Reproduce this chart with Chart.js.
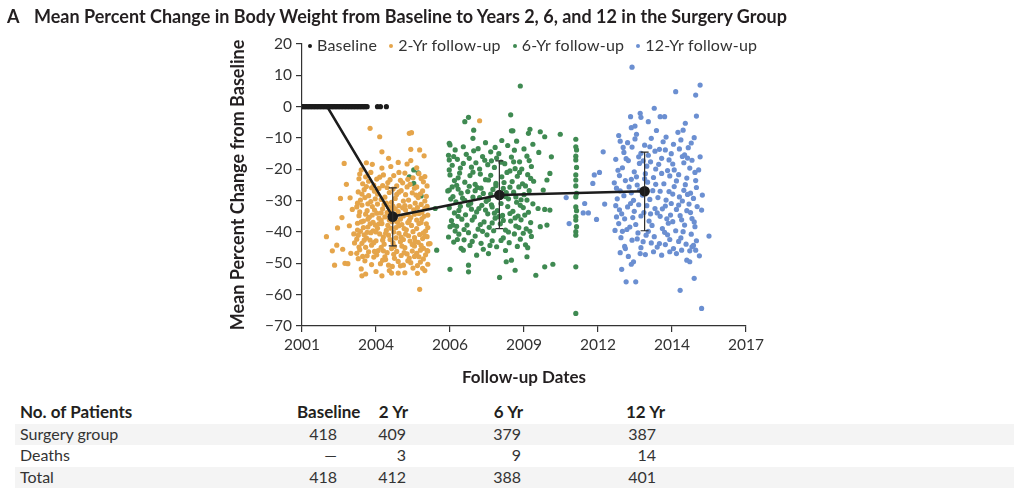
<!DOCTYPE html>
<html>
<head>
<meta charset="utf-8">
<script src="https://cdn.jsdelivr.net/npm/chart.js@4.4.1/dist/chart.umd.min.js"></script>
<style>
  body { margin: 0; background: #fff; font-family: Lato, "Open Sans", sans-serif; color: #231f20; }
  #page { position: relative; width: 1024px; height: 491px; overflow: hidden; }
  #title { position: absolute; left: 7px; top: 5px; font-size: 18px; font-weight: 700; line-height: 22px; white-space: nowrap; }
  #title .letter { display: inline-block; width: 27px; }
  #chart-box { position: absolute; left: 0; top: 0; width: 1024px; height: 400px; }
  #legend { position: absolute; left: 308px; top: 35px; font-size: 16px; letter-spacing: 0.2px; line-height: 20px; color: #333; white-space: nowrap; }
  #legend .item { display: inline-block; margin-right: 12px; }
  #legend .dot { display: inline-block; width: 4px; height: 4px; border-radius: 50%; margin-right: 5px; vertical-align: middle; position: relative; top: -1px; }
  .band { position: absolute; left: 15px; width: 999px; height: 21px; background: #f4f4f4; }
  .cell { position: absolute; font-size: 16px; line-height: 22px; white-space: nowrap; color: #333; }
  .head { font-weight: 700; color: #231f20; font-size: 17px; }
  .num { text-align: right; width: 60px; }
</style>
</head>
<body>
<div id="page">
  <div id="chart-box"><canvas id="weight-chart"></canvas></div>
  <div id="title"><span class="letter">A</span>Mean Percent Change in Body Weight from Baseline to Years 2, 6, and 12 in the Surgery Group</div>
  <div id="legend"></div>
  <div id="table"></div>
</div>
<script>
// x axis positions are evenly spaced slots, labelled with these dates
const xTickLabels = ['2001', '2004', '2006', '2009', '2012', '2014', '2017'];

// mean change line with SD bars (x in slot units)
const meanX = [0.34, 1.226, 2.667, 4.63];
const meanY = [0, -35.1, -28.2, -27.0];
const errLow = [null, -44.4, -38.9, -39.6];
const errHigh = [null, -25.9, -17.3, -14.5];

// individual patients: [x, y]
const baselineX = [0, 0.02, 0.04, 0.06, 0.08, 0.10, 0.12, 0.14, 0.16, 0.18, 0.20, 0.22, 0.24, 0.26, 0.28,
  0.30, 0.32, 0.34, 0.36, 0.38, 0.40, 0.42, 0.44, 0.46, 0.48, 0.50, 0.52, 0.54, 0.56, 0.58, 0.60, 0.62,
  0.64, 0.66, 0.68, 0.70, 0.72, 0.74, 0.76, 0.78, 0.80, 0.82, 0.84, 0.86, 0.88, 1.02, 1.06, 1.14];

const year2Points = [
  [0.92,-6.9],[1.05,-9.6],[1.45,-8.5],[1.48,-8.3],[0.57,-18.1],
  [1.08,-14.4],[1.47,-13.6],[1.59,-13.8],[1.65,-15.7],[1.17,-16.5],[0.87,-17.9],[0.95,-18.4],[1.08,-19.6],
  [1.20,-19.1],[1.30,-17.8],[1.42,-18.3],[1.47,-17.2],[1.55,-19.5],[0.80,-20.2],
  [0.78,-21.5],[0.86,-22.4],[0.93,-21.0],[1.01,-23.1],[1.10,-21.8],[1.16,-24.2],[1.24,-22.0],[1.33,-23.5],
  [1.39,-21.2],[1.50,-22.7],[1.58,-21.4],[1.64,-24.0],[0.82,-24.6],[0.97,-25.0],[1.28,-25.3],[1.46,-24.8],[1.55,-25.6],
  [0.76,-27.2],[0.84,-26.5],[0.90,-28.4],[0.98,-27.0],[1.04,-26.1],[1.12,-28.9],[1.18,-27.4],[1.26,-29.3],
  [1.34,-26.8],[1.40,-28.1],[1.49,-27.5],[1.57,-29.0],[1.63,-26.9],[1.68,-28.6],[0.79,-29.8],[0.93,-30.3],
  [1.07,-29.6],[1.21,-30.5],[1.37,-30.1],[1.53,-30.8],[1.61,-31.2],
  [0.74,-32.0],[0.81,-31.4],[0.88,-33.2],[0.95,-31.9],[1.01,-34.0],[1.09,-32.6],[1.15,-33.8],[1.23,-31.7],
  [1.30,-33.5],[1.36,-32.3],[1.43,-34.4],[1.51,-32.9],[1.58,-34.1],[1.66,-32.5],[0.77,-34.8],[0.91,-35.3],
  [1.04,-35.6],[1.19,-35.0],[1.33,-35.9],[1.47,-35.4],[1.62,-35.8],[1.70,-34.6],
  [0.52,-29.3],[0.65,-29.1],[0.54,-35.4],[0.33,-41.5],[0.48,-38.7],[0.47,-44.2],[0.55,-45.5],[0.58,-50.0],
  [0.62,-50.1],[0.68,-32.8],[0.70,-40.6],[0.64,-38.0],[0.66,-46.8],[0.71,-43.5],[0.60,-24.8],
  [0.75,-37.2],[0.83,-36.5],[0.89,-38.4],[0.96,-36.9],[1.02,-38.8],[1.08,-37.3],[1.14,-39.5],[1.22,-36.7],
  [1.27,-38.6],[1.35,-37.6],[1.41,-39.3],[1.48,-37.9],[1.55,-38.9],[1.61,-37.0],[1.67,-39.7],[0.79,-39.8],
  [0.93,-40.2],[1.05,-40.6],[1.17,-41.0],[1.31,-40.4],[1.44,-41.2],[1.59,-40.8],[1.69,-41.5],
  [0.74,-42.3],[0.81,-43.6],[0.87,-41.9],[0.94,-44.2],[1.00,-42.8],[1.11,-43.9],[1.19,-42.4],[1.25,-44.6],
  [1.33,-43.1],[1.39,-45.0],[1.46,-42.9],[1.52,-44.5],[1.57,-43.3],[1.64,-45.2],[1.71,-43.8],[0.78,-45.7],
  [0.90,-46.3],[1.03,-45.9],[1.15,-46.6],[1.28,-46.2],[1.42,-47.0],[1.55,-46.8],[1.67,-47.3],
  [0.76,-48.5],[0.85,-49.2],[0.97,-48.0],[1.06,-50.1],[1.13,-48.8],[1.22,-51.0],[1.30,-49.4],[1.37,-50.6],
  [1.45,-48.3],[1.50,-51.5],[1.60,-49.6],[1.70,-50.3],[0.80,-51.8],[1.00,-52.6],[1.18,-52.3],[1.39,-53.0],
  [0.81,-54.0],[0.86,-53.4],[1.08,-54.0],[1.21,-53.1],[1.30,-53.1],[1.59,-58.3],[1.56,-53.2],[1.63,-51.6],
  [1.73,-43.7],[0.41,-46.0],[0.44,-50.6],
  [0.85,-29.0],[0.99,-29.4],[1.14,-30.8],[1.28,-28.0],[1.44,-29.8],[1.60,-27.8],[0.78,-33.6],[0.98,-33.0],
  [1.12,-35.2],[1.26,-34.7],[1.40,-33.0],[1.55,-36.2],[1.68,-37.4],[0.84,-40.9],[0.99,-37.8],[1.10,-41.6],
  [1.24,-40.0],[1.38,-38.9],[1.52,-41.8],[1.63,-42.1],[0.77,-44.8],[0.92,-42.6],[1.07,-44.9],[1.21,-45.3],
  [1.35,-44.5],[1.49,-46.1],[1.61,-44.3],[0.88,-47.6],[1.01,-47.3],[1.12,-47.9],[1.25,-48.4],[1.34,-47.5],
  [1.47,-49.8],[1.58,-47.9],[1.69,-45.9],[0.83,-38.6],[0.96,-39.6],[1.16,-37.9],[1.29,-36.9],[1.45,-36.3],
  [1.64,-40.3],[0.75,-39.4],[0.89,-35.9],[1.07,-36.3],[1.20,-38.8],[1.34,-41.6],[1.50,-39.9],[1.66,-30.1],
  [0.81,-27.9],[1.02,-31.1],[1.17,-32.0],[1.31,-31.6],[1.46,-31.9],[1.62,-33.7],[0.94,-25.9],[1.09,-25.2],
  [1.23,-26.3],[1.36,-24.3],[1.52,-26.0],[1.66,-22.3],[2.40,-4.5],
  [0.77,-23.0],[0.90,-23.8],[1.05,-22.5],[1.19,-23.3],[1.31,-21.0],[1.43,-23.2],[1.61,-22.9],
  [0.87,-25.5],[1.02,-27.9],[1.15,-25.8],[1.31,-27.3],[1.42,-25.6],[1.54,-28.2],[1.69,-25.3],
  [0.75,-30.8],[0.89,-31.0],[1.11,-31.2],[1.26,-32.6],[1.39,-31.6],[1.56,-32.2],[1.69,-31.8],
  [0.86,-34.3],[0.95,-34.6],[1.07,-33.9],[1.21,-33.2],[1.37,-34.9],[1.52,-34.3],[1.65,-35.0],
  [0.80,-36.8],[0.92,-37.4],[1.04,-37.4],[1.18,-36.2],[1.31,-38.0],[1.43,-37.0],[1.58,-37.3],[1.70,-38.6],
  [0.76,-41.0],[0.88,-40.1],[1.00,-40.0],[1.13,-40.4],[1.27,-41.9],[1.40,-40.7],[1.53,-43.0],[1.66,-41.3],
  [0.84,-42.6],[0.97,-43.4],[1.09,-42.6],[1.23,-43.5],[1.37,-42.4],[1.49,-44.0],[1.60,-45.8],[1.70,-46.1],
  [0.74,-46.8],[0.86,-44.9],[0.98,-46.2],[1.10,-46.0],[1.24,-47.1],[1.38,-46.6],[1.52,-47.8],[1.64,-48.6],
  [0.82,-47.8],[0.94,-50.4],[1.09,-49.0],[1.17,-50.6],[1.33,-50.8],[1.43,-49.2],[1.56,-50.7],[1.66,-52.3]
];

const year6Points = [
  [2.95,6.6],[2.82,-2.6],[2.20,-4.8],[2.25,-3.4],[2.32,-7.5],[2.31,-10.1],[2.83,-7.7],[2.85,-7.7],
  [3.08,-7.2],[3.06,-8.5],[3.22,-8.0],[3.28,-9.6],[3.49,-8.8],[2.00,-12.2],[2.07,-13.8],[2.18,-12.8],
  [2.32,-14.1],[2.48,-11.5],[2.61,-13.0],[2.70,-10.8],[2.78,-12.4],[2.90,-11.0],[3.00,-13.5],[3.12,-12.0],[3.20,-14.6],
  [3.37,-16.0],[3.35,-21.3],[3.31,-23.4],[3.26,-26.6],[3.19,-32.5],[3.28,-32.8],[3.35,-33.0],[3.22,-38.3],[3.31,-37.8],
  [2.00,-38.3],[1.82,-45.8],[2.00,-51.9],[2.25,-52.7],[2.25,-50.6],[2.67,-54.5],[2.88,-52.2],[3.16,-53.8],
  [3.28,-51.1],[3.39,-50.3],[2.76,-49.5],[2.83,-49.0],[3.04,-47.9],[2.52,-46.9],[2.18,-45.8],[2.36,-47.4],
  [1.99,-11.7],[1.99,-17.0],[1.99,-20.2],[1.51,-20.2],[1.57,-21.1],[1.45,-22.4],[1.51,-24.5],[1.61,-28.5],
  [1.80,-32.5],[1.99,-26.6],
  [1.98,-15.5],[2.10,-16.8],[2.22,-15.2],[2.35,-17.9],[2.44,-15.9],[2.56,-17.3],[2.66,-15.0],[2.74,-18.2],
  [2.83,-16.1],[2.94,-17.6],[3.04,-15.8],[2.14,-19.6],[2.40,-19.9],[2.60,-19.4],[2.88,-19.8],[3.10,-19.1],
  [2.00,-21.8],[2.06,-23.6],[2.13,-21.2],[2.20,-24.1],[2.27,-22.0],[2.34,-24.8],[2.41,-21.5],[2.48,-23.3],
  [2.55,-21.9],[2.62,-24.5],[2.70,-22.4],[2.77,-21.0],[2.84,-23.9],[2.91,-22.2],[2.98,-24.6],[3.05,-21.7],[3.13,-23.8],
  [1.97,-26.9],[2.04,-28.7],[2.11,-26.3],[2.17,-29.2],[2.24,-27.1],[2.31,-28.9],[2.37,-25.8],[2.45,-27.7],
  [2.52,-29.6],[2.58,-26.4],[2.65,-28.3],[2.72,-26.1],[2.79,-29.4],[2.86,-27.3],[2.93,-25.6],[3.00,-28.1],
  [3.07,-26.8],[2.08,-30.4],[2.28,-30.8],[2.49,-30.2],[2.69,-30.9],[2.90,-30.5],
  [1.99,-32.3],[2.06,-33.9],[2.14,-31.8],[2.21,-34.5],[2.29,-32.7],[2.36,-33.6],[2.43,-31.5],[2.51,-34.2],
  [2.57,-32.0],[2.64,-33.2],[2.71,-34.7],[2.78,-31.9],[2.85,-33.4],[2.92,-34.9],[2.99,-32.2],[3.06,-33.7],[3.12,-31.0],
  [2.02,-36.4],[2.09,-38.2],[2.16,-35.9],[2.23,-37.8],[2.30,-36.2],[2.38,-39.1],[2.46,-36.8],[2.53,-38.5],
  [2.61,-35.6],[2.68,-37.4],[2.75,-39.4],[2.82,-36.5],[2.89,-38.1],[2.96,-36.1],[3.03,-39.0],[3.09,-37.0],
  [1.98,-41.6],[2.05,-43.2],[2.12,-40.7],[2.19,-42.5],[2.27,-44.3],[2.34,-41.3],[2.42,-43.6],[2.50,-40.9],
  [2.57,-42.8],[2.63,-44.7],[2.72,-41.9],[2.80,-43.4],[2.87,-40.6],[2.95,-42.3],[3.02,-44.1],[3.10,-41.4],
  [2.15,-45.2],[2.45,-45.5],[2.75,-45.9],[3.05,-45.0],
  [2.03,-18.7],[2.18,-18.1],[2.29,-19.3],[2.51,-18.5],[2.69,-17.7],[2.81,-20.5],[2.97,-19.9],
  [2.09,-25.1],[2.26,-25.4],[2.42,-26.0],[2.62,-25.2],[2.81,-25.7],[3.02,-25.3],
  [2.01,-29.5],[2.20,-29.9],[2.40,-29.0],[2.56,-31.3],[2.75,-28.7],[2.96,-29.7],
  [2.11,-35.0],[2.33,-35.2],[2.48,-33.0],[2.66,-35.1],[2.88,-35.5],[3.01,-34.6],
  [2.07,-39.7],[2.25,-40.2],[2.44,-39.8],[2.59,-39.6],[2.79,-40.0],[2.99,-40.4],
  [2.05,-15.9],[2.26,-16.5],[2.47,-17.1],[2.63,-16.4],[2.86,-17.6],[3.07,-17.2],
  [2.11,-22.7],[2.31,-20.9],[2.52,-23.4],[2.73,-24.2],[2.94,-21.0],[3.09,-22.9],
  [2.03,-25.6],[2.15,-27.6],[2.34,-26.8],[2.55,-27.9],[2.76,-27.4],[2.89,-28.8],[3.04,-29.8],
  [2.12,-33.1],[2.25,-31.4],[2.39,-32.5],[2.60,-34.0],[2.81,-34.1],[2.95,-31.5],
  [2.04,-37.8],[2.19,-39.2],[2.41,-37.6],[2.57,-37.1],[2.72,-36.3],[2.93,-38.6],[3.08,-39.8],
  [2.10,-42.4],[2.30,-43.0],[2.54,-44.3],[2.69,-42.7],[2.91,-44.6],[2.38,-13.4],[2.55,-14.4],[2.87,-13.9],
  [3.70,-10.4],[3.70,-12.8],[3.71,-13.8],[3.70,-15.8],[3.70,-17.0],[3.71,-19.4],[3.70,-21.8],[3.70,-23.4],
  [3.70,-25.3],[3.71,-27.7],[3.70,-28.8],[3.70,-32.0],[3.71,-33.2],[3.70,-35.1],[3.70,-36.2],[3.71,-38.3],
  [3.70,-39.9],[3.70,-41.0],[3.70,-51.1],[3.70,-66.0]
];

const year12Points = [
  [4.46,12.6],[5.05,4.8],[5.38,6.9],[5.32,3.7],[4.76,-0.5],[4.44,-3.2],[4.57,-2.1],[4.58,-3.4],[4.68,-4.8],
  [4.84,-3.2],[4.90,-3.2],[4.45,-6.7],[4.50,-6.2],[5.18,-5.3],[5.33,-3.0],[5.15,-7.5],
  [4.07,-14.4],[3.95,-21.8],[4.02,-21.0],[3.93,-24.5],[3.82,-30.9],[3.80,-33.9],[3.87,-33.9],[4.09,-31.1],
  [3.98,-36.0],[3.61,-37.3],[3.57,-29.0],[5.50,-41.3],[5.41,-28.2],[5.38,-16.0],[5.36,-20.2],[5.40,-33.0],[5.37,-47.6],
  [4.32,-51.9],[4.38,-55.9],[4.51,-55.9],[4.48,-49.5],[4.45,-50.3],[5.11,-58.6],[5.40,-64.4],[5.30,-54.8],
  [5.20,-49.0],[5.24,-49.5],[5.32,-45.8],[5.27,-44.7],[4.30,-46.6],[4.37,-45.3],[4.57,-46.9],[4.75,-46.3],
  [4.86,-47.4],[4.97,-46.3],[5.06,-46.9],
  [4.28,-9.2],[4.40,-11.5],[4.52,-8.8],[4.63,-12.3],[4.72,-10.1],[4.83,-13.6],[4.92,-9.7],[5.02,-12.0],
  [5.12,-10.6],[5.22,-13.1],[5.30,-9.9],[4.35,-14.6],[4.58,-14.9],[4.79,-7.6],[4.99,-15.0],[5.17,-15.4],
  [4.46,-12.9],[4.68,-15.5],[4.88,-11.2],[5.08,-8.2],
  [4.24,-16.8],[4.33,-19.5],[4.41,-17.2],[4.49,-20.8],[4.56,-18.1],[4.64,-21.4],[4.71,-17.6],[4.78,-19.9],
  [4.86,-16.5],[4.94,-20.4],[5.01,-18.3],[5.09,-21.7],[5.16,-17.9],[5.24,-19.6],[5.31,-21.0],[4.29,-22.0],
  [4.52,-22.4],[4.75,-22.6],[4.97,-22.1],[5.20,-22.8],
  [4.22,-24.3],[4.30,-26.9],[4.37,-23.6],[4.45,-27.5],[4.53,-25.0],[4.60,-28.2],[4.67,-24.1],[4.74,-26.8],
  [4.81,-29.0],[4.89,-24.6],[4.96,-27.1],[5.03,-25.5],[5.10,-28.8],[5.18,-24.9],[5.25,-27.6],[5.33,-25.8],
  [4.26,-29.4],[4.48,-29.9],[4.70,-29.6],[4.92,-29.8],[5.14,-30.1],[5.29,-29.3],
  [4.24,-31.6],[4.32,-34.2],[4.40,-32.0],[4.47,-35.4],[4.55,-31.3],[4.62,-33.8],[4.69,-36.5],[4.77,-32.5],
  [4.84,-35.0],[4.91,-31.7],[4.98,-34.6],[5.06,-32.8],[5.13,-36.1],[5.20,-33.2],[5.27,-35.7],[5.34,-31.9],
  [4.28,-37.3],[4.51,-37.6],[4.73,-37.9],[4.95,-37.2],[5.17,-37.8],
  [4.23,-39.5],[4.31,-41.8],[4.39,-39.2],[4.46,-42.6],[4.54,-40.3],[4.61,-43.1],[4.68,-39.8],[4.76,-41.5],
  [4.83,-43.7],[4.90,-40.1],[4.97,-42.4],[5.05,-39.6],[5.12,-41.9],[5.19,-43.9],[5.26,-40.7],[5.33,-42.8],
  [4.36,-44.6],[4.58,-45.0],[4.80,-44.8],[5.02,-45.3],[5.24,-46.0],
  [4.34,-13.0],[4.55,-16.0],[4.77,-14.2],[4.96,-17.0],[5.14,-15.9],
  [4.27,-20.3],[4.45,-23.2],[4.66,-19.0],[4.86,-21.3],[5.06,-23.7],[5.27,-17.1],
  [4.35,-28.4],[4.56,-26.6],[4.78,-24.8],[4.99,-30.9],[5.21,-28.0],
  [4.36,-35.8],[4.58,-34.9],[4.80,-33.9],[5.01,-36.7],[5.23,-31.1],
  [4.43,-38.4],[4.65,-41.0],[4.87,-38.9],[5.09,-43.0],[5.31,-38.3],
  [4.30,-11.0],[4.50,-10.3],[4.70,-12.8],[4.91,-13.8],[5.10,-13.5],[5.26,-11.6],
  [4.38,-16.6],[4.61,-17.3],[4.82,-18.4],[5.03,-20.2],[5.21,-16.4],
  [4.25,-26.0],[4.42,-25.6],[4.63,-23.0],[4.84,-27.0],[5.01,-27.9],[5.16,-26.7],[5.32,-23.6],
  [4.29,-32.9],[4.44,-30.9],[4.66,-31.6],[4.87,-32.6],[5.09,-31.4],[5.25,-33.8],
  [4.25,-35.2],[4.49,-33.4],[4.71,-34.2],[4.93,-35.8],[5.11,-34.8],[5.30,-36.8],
  [4.33,-39.8],[4.53,-42.2],[4.72,-43.5],[4.94,-40.9],[5.15,-39.9],[5.29,-44.3],
  [4.41,-47.8],[4.64,-47.2],[4.91,-44.0],[5.13,-45.8]
];

// patient counts table
const tableCols = ['Baseline', '2 Yr', '6 Yr', '12 Yr'];
const surgeryCounts = ['418', '409', '379', '387'];
const deathCounts = ['\u2014', '3', '9', '14'];
const totalCounts = ['418', '412', '388', '401'];

const toXY = pts => pts.map(([x, y]) => ({ x, y }));

// SD whiskers on the mean points
const errorBars = {
    id: 'errorBars',
    afterDatasetsDraw(chart) {
        const { ctx, scales: { x, y } } = chart;
        ctx.save();
        ctx.strokeStyle = '#2b2b2b';
        ctx.lineWidth = 1.2;
        meanX.forEach((mx, i) => {
            if (errLow[i] === null) return;
            const px = x.getPixelForValue(mx);
            const top = y.getPixelForValue(errHigh[i]);
            const bot = y.getPixelForValue(errLow[i]);
            ctx.beginPath();
            ctx.moveTo(px, top); ctx.lineTo(px, bot);
            ctx.moveTo(px - 4, top); ctx.lineTo(px + 4, top);
            ctx.moveTo(px - 4, bot); ctx.lineTo(px + 4, bot);
            ctx.stroke();
        });
        ctx.restore();
    }
};

Chart.defaults.font.family = 'Lato';
Chart.defaults.color = '#333';

const scatterStyle = (label, color, pts, r) => ({
    type: 'scatter',
    label,
    data: pts,
    backgroundColor: color,
    borderWidth: 0,
    pointRadius: r,
    pointHoverRadius: r,
    order: 2,
    inLegend: true
});

const ctx = document.getElementById('weight-chart').getContext('2d');
const chart = new Chart(ctx, {
    type: 'scatter',
    data: {
        datasets: [
            {
                type: 'line',
                label: 'Mean',
                data: meanX.map((x, i) => ({ x, y: meanY[i] })),
                borderColor: '#1c1c1c',
                backgroundColor: '#1c1c1c',
                borderWidth: 2.6,
                pointRadius: [0, 4, 4, 4],
                order: 0
            },
            scatterStyle('Baseline', '#1c1c1c', baselineX.map(x => ({ x, y: 0 })), 2.6),
            scatterStyle('2-Yr follow-up', '#e5a54b', toXY(year2Points), 2.6),
            scatterStyle('6-Yr follow-up', '#3f8a52', toXY(year6Points), 2.6),
            scatterStyle('12-Yr follow-up', '#6b8fd1', toXY(year12Points), 2.6)
        ]
    },
    options: {
        responsive: true,
        maintainAspectRatio: false,
        animation: false,
        layout: { padding: { left: 220, right: 278, top: 44, bottom: 0 } },
        plugins: { legend: { display: false }, tooltip: { enabled: false } },
        scales: {
            x: {
                type: 'linear',
                min: 0,
                max: 6,
                afterFit: s => { s.height = 74; },
                ticks: {
                    stepSize: 1,
                    padding: 4,
                    font: { size: 15.5 },
                    color: '#333',
                    callback: v => xTickLabels[v]
                },
                grid: { drawOnChartArea: false, tickLength: 6, color: '#333', lineWidth: 1.2 },
                border: { color: '#333', width: 1.2 },
                title: { display: true, text: 'Follow-up Dates', font: { size: 17, weight: 'bold' }, color: '#231f20', padding: { top: 0, bottom: 12 } }
            },
            y: {
                min: -70,
                max: 20,
                afterFit: s => { s.width = 82; },
                ticks: {
                    stepSize: 10,
                    padding: 4,
                    font: { size: 15.5 },
                    color: '#333',
                    callback: v => v < 0 ? '\u2212' + Math.abs(v) : String(v)
                },
                grid: { drawOnChartArea: false, tickLength: 6, color: '#333', lineWidth: 1.2 },
                border: { color: '#333', width: 1.2 },
                title: { display: true, text: 'Mean Percent Change from Baseline', font: { size: 18, weight: 'bold' }, color: '#231f20', padding: { top: 7, bottom: 0 } }
            }
        }
    },
    plugins: [errorBars]
});

// html legend built from the datasets
const legendBox = document.getElementById('legend');
chart.data.datasets.filter(d => d.inLegend).forEach(d => {
    const item = document.createElement('span');
    item.className = 'item';
    const dot = document.createElement('span');
    dot.className = 'dot';
    dot.style.background = d.backgroundColor;
    item.appendChild(dot);
    item.appendChild(document.createTextNode(d.label));
    legendBox.appendChild(item);
});

// patient table
const table = document.getElementById('table');
const rowTops = [401, 423, 444, 466];
const colRights = [337, 406, 521, 656];
const headRights = [357, 408, 523, 665];
[1, 3].forEach(r => {
    const band = document.createElement('div');
    band.className = 'band';
    band.style.top = (rowTops[r] + 1) + 'px';
    table.appendChild(band);
});
function addCell(text, left, top, cls, right) {
    const c = document.createElement('div');
    c.className = 'cell ' + (cls || '');
    c.textContent = text;
    c.style.top = top + 'px';
    if (right !== undefined) c.style.left = (right - 60) + 'px';
    else c.style.left = left + 'px';
    table.appendChild(c);
}
addCell('No. of Patients', 20, rowTops[0], 'head');
tableCols.forEach((t, i) => addCell(t, 0, rowTops[0], 'head num', headRights[i]));
[['Surgery group', surgeryCounts], ['Deaths', deathCounts], ['Total', totalCounts]].forEach(([name, vals], r) => {
    addCell(name, 20, rowTops[r + 1]);
    vals.forEach((v, i) => addCell(v, 0, rowTops[r + 1], 'num', colRights[i]));
});
</script>
</body>
</html>
